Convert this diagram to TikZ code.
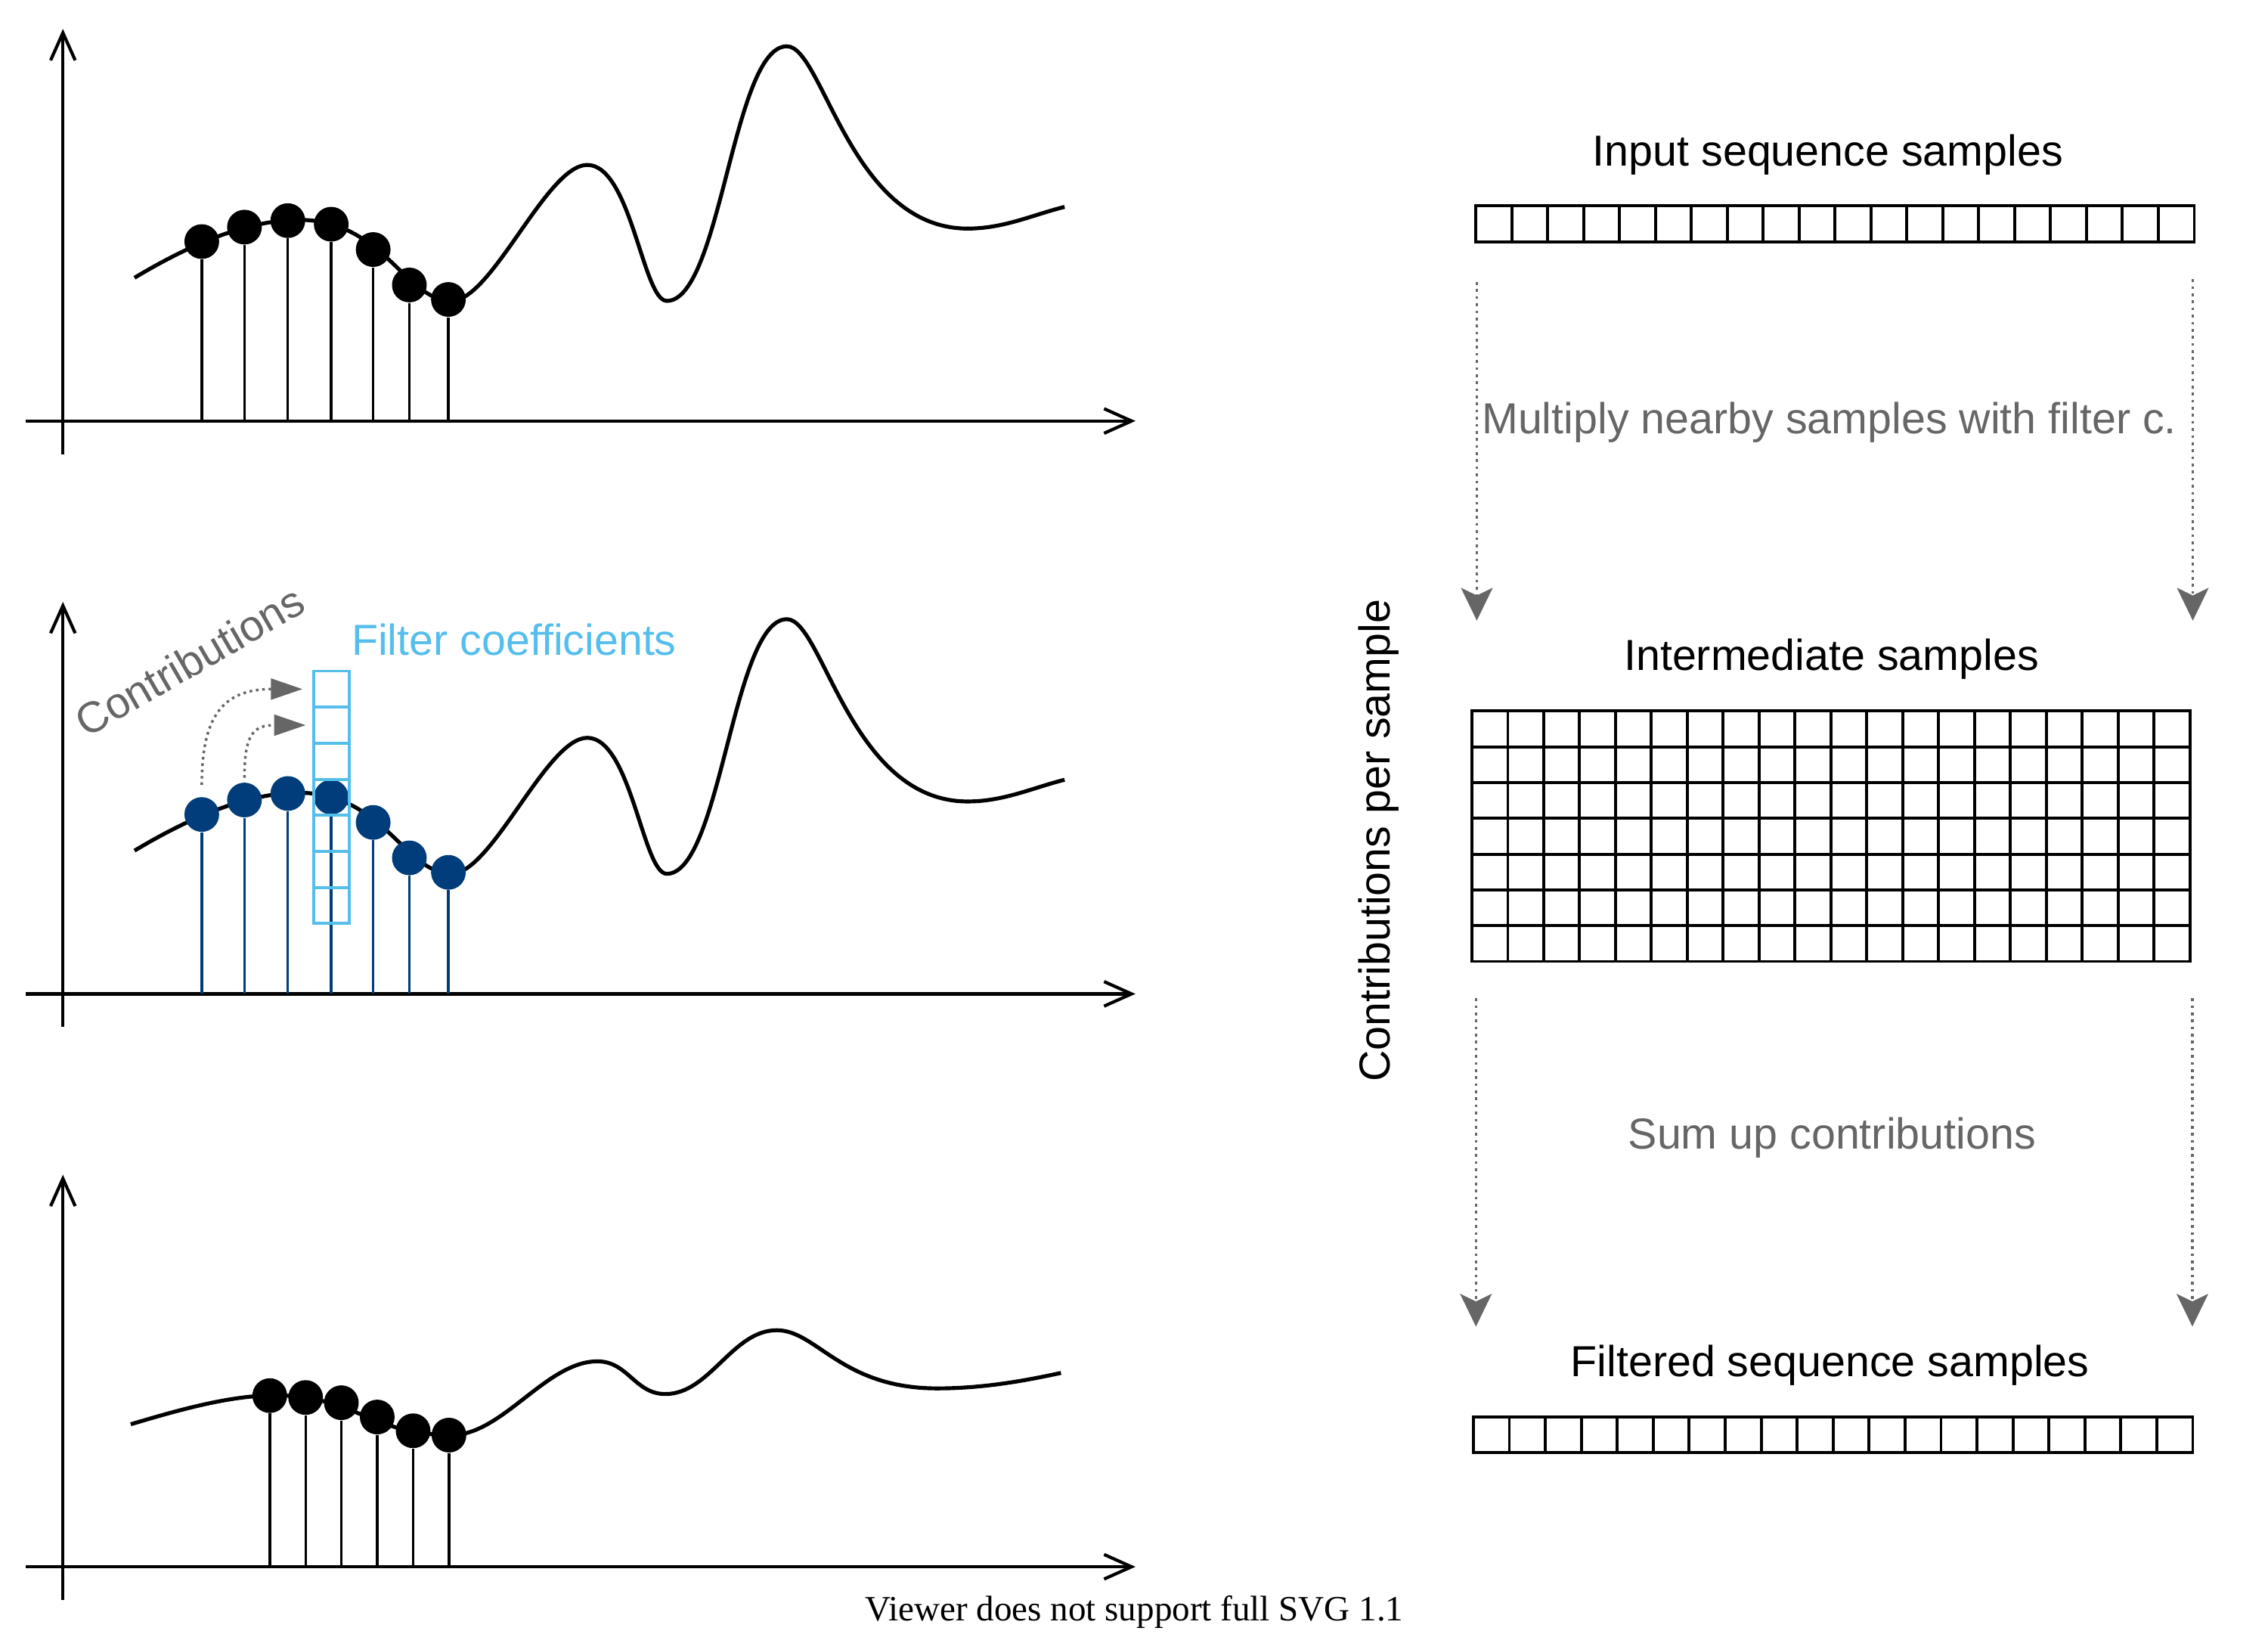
\documentclass[tikz,border=0pt]{standalone}
\usepackage{fontspec}
\setmainfont{Liberation Sans}
\newfontfamily\viewerfont{Liberation Serif}
\usetikzlibrary{positioning,arrows.meta}

\definecolor{sampleblue}{RGB}{0,61,122}
\definecolor{coeffblue}{RGB}{85,190,236}
\definecolor{notegray}{RGB}{102,102,102}

% the sampled signal, before and after filtering
\newcommand{\inputsignal}{%
  \draw[signal] (93,192) .. controls (133,168) and (172,152) .. (207,152)
    .. controls (264.8,152) and (280.5,208) .. (312,208)
    .. controls (340.2,208) and (377.8,114) .. (406,114)
    .. controls (436.3,114) and (444.5,208) .. (461,208)
    .. controls (498.4,208) and (506.6,32) .. (544,32)
    .. controls (569,32) and (587.8,158) .. (669,158)
    .. controls (694,158) and (714,148.5) .. (736,143);}
\newcommand{\filteredsignal}{%
  \draw[signal] (90.4,984.5) .. controls (125.4,974) and (160,964.5) .. (190,964.5)
    .. controls (244.9,964.5) and (257.1,992) .. (312,992)
    .. controls (347.4,992) and (377.7,941) .. (413,941)
    .. controls (434.2,941) and (438.9,963.6) .. (460,963.6)
    .. controls (490.8,963.6) and (506.2,919.5) .. (537,919.5)
    .. controls (564.8,919.5) and (581.4,959.7) .. (648,959.7)
    .. controls (678,959.7) and (706,955) .. (733.5,949);}

\begin{document}
\begin{tikzpicture}[x=0.5pt,y=-0.5pt,
  axis/.style={line width=1.1pt,-{Straight Barb[length=9.5pt,width=8.5pt]}},
  signal/.style={line width=1.35pt},
  stem/.style={line width=0.9pt},
  sample/.style={circle,fill=black,inner sep=0pt,minimum size=12pt},
  cell/.style={draw,line width=1pt,inner sep=0pt,minimum size=12.42pt},
  coeff/.style={cell,draw=coeffblue,minimum size=12.47pt},
  lbl/.style={font=\fontsize{15}{18}\selectfont,anchor=base,inner sep=0pt},
  note/.style={lbl,text=notegray},
  flow/.style={draw=notegray,line width=0.95pt,dash pattern=on 0.95pt off 1.5pt,
    -{Stealth[length=11.3pt,width=10.9pt,inset=2.6pt,fill=notegray]}},
  contrib/.style={draw=notegray,line width=0.9pt,dash pattern=on 0.9pt off 1.3pt,
    -{Triangle[length=10.9pt,width=7.2pt,fill=notegray]}}]

  \useasboundingbox (0,0) rectangle (1568,1129);

  % axes of the three plots
  \foreach \p/\oy in {T/0,M/396,B/792}{
    \coordinate (yb\p) at (43.5,{314+\oy});
    \coordinate (yt\p) at (43.5,{20+\oy});
    \coordinate (xa\p) at (18,{291+\oy});
    \coordinate (xe\p) at (785,{291+\oy});
    \draw[axis] (yb\p) -- (yt\p);
    \draw[axis] (xa\p) -- (xe\p);
  }

  % input sequence
  \inputsignal
  \foreach \i/\x/\y in {1/139.5/167,2/169/157,3/199/152.5,4/229/155,
                        5/258/172.5,6/283/197,7/310/207}{
    \node[sample] (t\i) at (\x,\y) {};
    \draw[stem] (t\i.south) -- (t\i |- xaT);
  }

  % filter applied to the input
  \begin{scope}[shift={(0,396)}]
    \inputsignal
  \end{scope}
  \foreach \i/\x/\y in {1/139.5/563,2/169/553,3/199/548.5,4/229/551,
                        5/258/568.5,6/283/593,7/310/603}{
    \node[sample,fill=sampleblue] (m\i) at (\x,\y) {};
    \draw[stem,sampleblue] (m\i.south) -- (m\i |- xaM);
  }
  \foreach \k in {1,...,7}
    \node[coeff] (fc\k) at (229.2,{451.4+24.93*\k}) {};
  \node[lbl,anchor=base west,text=coeffblue] (fclbl) at (242.7,452.9) {Filter coefficients};
  \node[note,anchor=center,rotate=30] (conlbl) at (131,457) {Contributions};
  \draw[contrib,shorten <=4pt,shorten >=3.3pt]
    (m1.north) .. controls +(0,-55) and +(-62,0) .. (fc1.west);
  \draw[contrib,shorten <=1.5pt,shorten >=2.2pt]
    (m2.north) .. controls +(0,-34) and +(-40,0) .. (fc2.west);

  % filtered sequence
  \filteredsignal
  \foreach \i/\x/\y in {1/186.5/964.7,2/211.3/966,3/236/969.6,4/260.8/979.5,
                        5/285.6/989,6/310.4/992}{
    \node[sample] (b\i) at (\x,\y) {};
    \draw[stem] (b\i.south) -- (b\i |- xaB);
  }

  % sample buffers
  \node[lbl] (inlbl) at (1263.8,114.6) {Input sequence samples};
  \foreach \k in {0,...,19}
    \node[cell] (in\k) at ({1032.7+24.835*\k},154.7) {};

  \node[lbl] (midlbl) at (1266.2,463.1) {Intermediate samples};
  \foreach \r in {0,...,6}
    \foreach \k in {0,...,19}
      \node[cell] (mid\r-\k) at ({1030+24.82*\k},{503.9+24.71*\r}) {};
  \node[lbl,anchor=center,rotate=90] (cpslbl) at (953,581) {Contributions per sample};

  \node[lbl] (outlbl) at (1265.2,951.6) {Filtered sequence samples};
  \foreach \k in {0,...,19}
    \node[cell] (out\k) at ({1031.05+24.87*\k},991.8) {};

  % processing steps
  \coordinate (f1s) at (1021,195);   \coordinate (f1e) at (1021,429);
  \coordinate (f2s) at (1516,193);   \coordinate (f2e) at (1516,429);
  \coordinate (f3s) at (1020.4,690); \coordinate (f3e) at (1020.4,917);
  \coordinate (f4s) at (1515.7,690); \coordinate (f4e) at (1515.7,917);
  \foreach \f in {1,...,4}
    \draw[flow] (f\f s) -- (f\f e);
  \node[note] (mullbl) at (1264.6,299.7) {Multiply nearby samples with filter c.};
  \node[note] (sumlbl) at (1266.6,794.4) {Sum up contributions};

  \node[font=\viewerfont\fontsize{12.3}{14}\selectfont,anchor=base,inner sep=0pt]
    (viewer) at (784.2,1120.3) {Viewer does not support full SVG 1.1};
\end{tikzpicture}
\end{document}
